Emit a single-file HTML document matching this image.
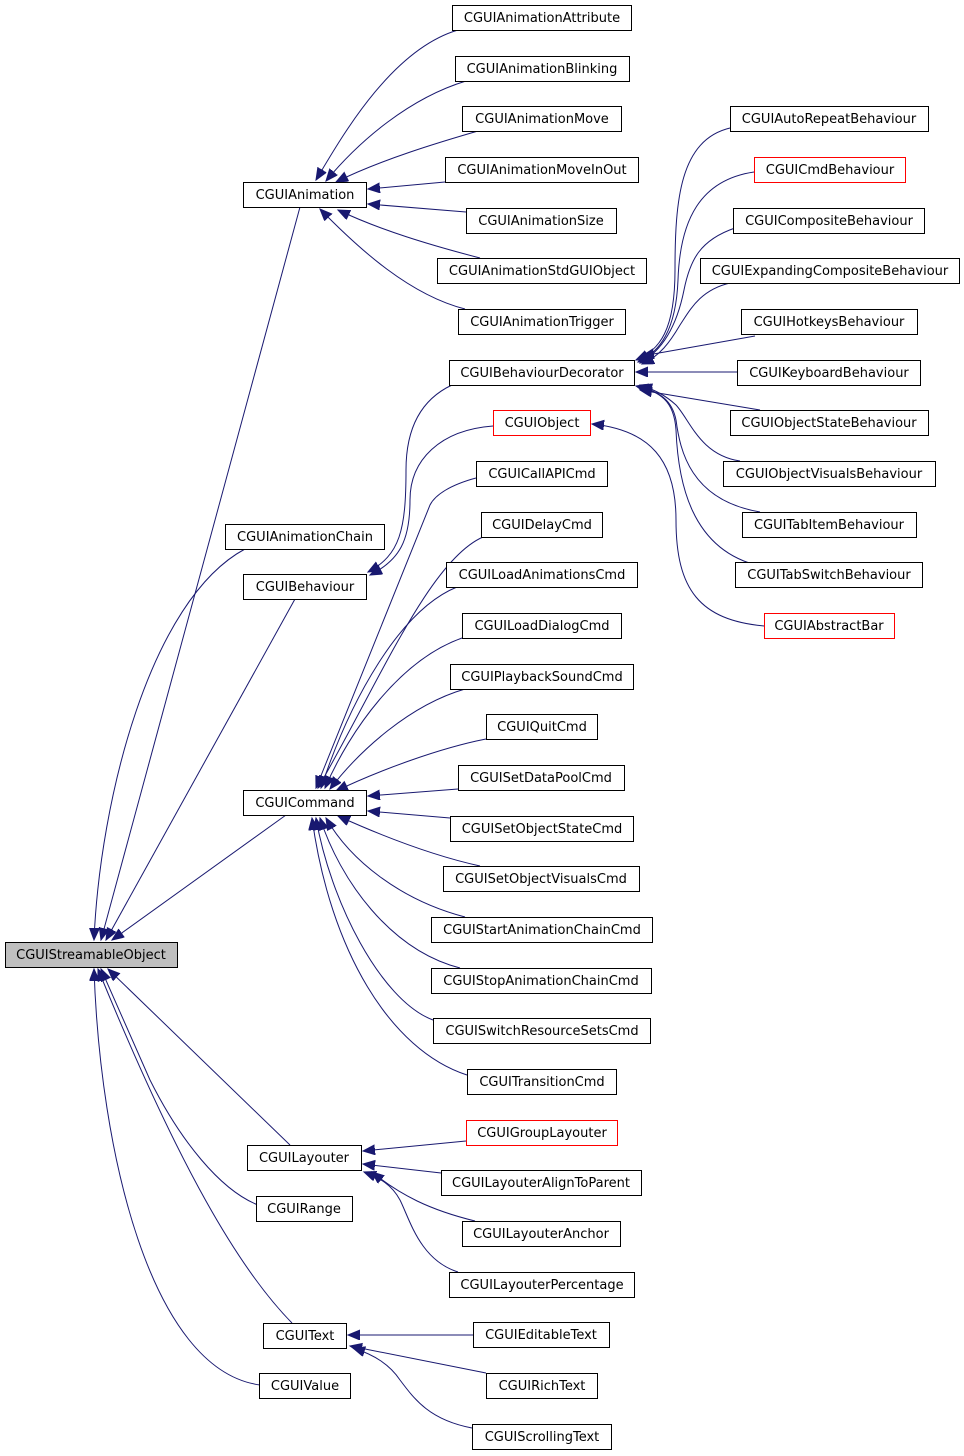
<!DOCTYPE html>
<html><head><meta charset="utf-8"><style>
html,body{margin:0;padding:0;background:#fff}
svg{display:block}
text{font-family:"DejaVu Sans","Liberation Sans",sans-serif;font-size:13px;fill:#000}
</style></head><body>
<svg width="964" height="1456" viewBox="0 0 964 1456" xmlns="http://www.w3.org/2000/svg">
<defs>
<marker id="a" markerUnits="userSpaceOnUse" markerWidth="14" markerHeight="12" refX="12" refY="5" orient="auto">
<path d="M0,0 L12,5 L0,10 Z" fill="#191970" stroke="#191970"/>
</marker>
</defs>
<g fill="none" stroke="#191970" stroke-width="1" marker-end="url(#a)">
<!-- to CGUIAnimation -->
<path d="M458,30 C390,50 340,140 316,180"/>
<path d="M466,81 C410,98 360,140 326,181"/>
<path d="M478,131 C440,142 380,160 336,182"/>
<path d="M445,182 L368,189"/>
<path d="M466,212 L368,204"/>
<path d="M480,258 C430,245 380,230 338,210"/>
<path d="M465,309 C410,295 360,250 320,209"/>
<!-- to BehaviourDecorator -->
<path d="M730,128 C680,140 675,200 675,270 C675,330 660,350 636,360"/>
<path d="M754,172 C700,180 680,220 678,280 C676,330 660,352 638,362"/>
<path d="M735,228 C700,240 690,260 684,290 C676,330 660,352 640,363"/>
<path d="M730,283 C700,290 690,310 680,325 C670,342 660,356 642,364"/>
<path d="M755,336 L642,356"/>
<path d="M737,372 L636,372"/>
<path d="M760,410 L640,390"/>
<path d="M740,461 C700,455 690,420 676,405 C665,395 655,390 640,385"/>
<path d="M760,512 C690,500 680,450 676,420 C672,400 660,392 638,386"/>
<path d="M760,566 C690,550 678,480 676,430 C674,400 660,392 636,386"/>
<!-- AbstractBar to CGUIObject -->
<path d="M764,626 C700,620 676,590 676,520 C676,460 650,430 592,424"/>
<!-- to CGUIBehaviour -->
<path d="M452,385 C420,400 406,430 406,470 C406,530 400,555 368,572"/>
<path d="M493,426 C440,430 410,460 410,500 C410,540 400,560 370,575"/>
<!-- to CGUICommand -->
<path d="M476,478 C450,485 435,495 430,505 L316,788"/>
<path d="M483,537 C430,560 380,680 318,788"/>
<path d="M457,587 C400,610 350,700 321,788"/>
<path d="M462,638 C400,660 350,730 325,788"/>
<path d="M465,689 C410,705 360,750 330,789"/>
<path d="M486,739 C440,748 380,770 336,791"/>
<path d="M458,789 L368,796"/>
<path d="M450,818 L368,811"/>
<path d="M480,866 C430,855 380,835 338,816"/>
<path d="M465,917 C400,900 350,860 326,818"/>
<path d="M460,968 C390,950 340,880 320,818"/>
<path d="M433,1020 C380,1000 330,900 316,818"/>
<path d="M467,1075 C390,1050 330,950 312,818"/>
<!-- to Layouter -->
<path d="M466,1141 L363,1151"/>
<path d="M441,1173 L363,1164"/>
<path d="M475,1221 C430,1210 400,1195 372,1172"/>
<path d="M458,1272 C420,1260 410,1220 400,1200 C392,1185 380,1178 364,1172"/>
<!-- to Text -->
<path d="M473,1335 L348,1335"/>
<path d="M486,1373 L350,1346"/>
<path d="M472,1428 C430,1420 415,1400 400,1380 C390,1365 375,1355 353,1348"/>
<!-- to StreamableObject -->
<path d="M300,207 L101,940"/>
<path d="M245,549 C150,600 100,800 94,940"/>
<path d="M295,599 L106,940"/>
<path d="M286,815 L112,940"/>
<path d="M290,1145 L108,969"/>
<path d="M258,1205 C220,1190 180,1140 150,1080 L101,969"/>
<path d="M292,1323 C240,1270 180,1170 98,969"/>
<path d="M260,1385 C150,1370 100,1150 94,969"/>
</g>
<g stroke="#000" stroke-width="1" fill="#fff">
<rect x="5.5" y="942.5" width="172" height="25" fill="#bfbfbf"/>
<rect x="243.5" y="182.5" width="123" height="25"/>
<rect x="225.5" y="524.5" width="159" height="25"/>
<rect x="243.5" y="574.5" width="123" height="25"/>
<rect x="243.5" y="790.5" width="123" height="25"/>
<rect x="247.5" y="1145.5" width="114" height="25"/>
<rect x="256.5" y="1196.5" width="96" height="25"/>
<rect x="263.5" y="1323.5" width="83" height="25"/>
<rect x="259.5" y="1373.5" width="91" height="25"/>
<rect x="452.5" y="5.5" width="179" height="25"/>
<rect x="455.5" y="56.5" width="174" height="25"/>
<rect x="462.5" y="106.5" width="159" height="25"/>
<rect x="445.5" y="157.5" width="193" height="25"/>
<rect x="466.5" y="208.5" width="150" height="25"/>
<rect x="437.5" y="258.5" width="209" height="25"/>
<rect x="458.5" y="309.5" width="167" height="25"/>
<rect x="449.5" y="360.5" width="185" height="25"/>
<rect x="493.5" y="410.5" width="97" height="25" stroke="#f00"/>
<rect x="476.5" y="461.5" width="131" height="25"/>
<rect x="481.5" y="512.5" width="121" height="25"/>
<rect x="446.5" y="562.5" width="191" height="25"/>
<rect x="462.5" y="613.5" width="159" height="25"/>
<rect x="450.5" y="664.5" width="183" height="25"/>
<rect x="486.5" y="714.5" width="111" height="25"/>
<rect x="458.5" y="765.5" width="166" height="25"/>
<rect x="450.5" y="816.5" width="183" height="25"/>
<rect x="443.5" y="866.5" width="196" height="25"/>
<rect x="431.5" y="917.5" width="221" height="25"/>
<rect x="431.5" y="968.5" width="220" height="25"/>
<rect x="433.5" y="1018.5" width="217" height="25"/>
<rect x="467.5" y="1069.5" width="149" height="25"/>
<rect x="466.5" y="1120.5" width="151" height="25" stroke="#f00"/>
<rect x="441.5" y="1170.5" width="200" height="25"/>
<rect x="462.5" y="1221.5" width="158" height="25"/>
<rect x="449.5" y="1272.5" width="185" height="25"/>
<rect x="473.5" y="1322.5" width="136" height="25"/>
<rect x="486.5" y="1373.5" width="111" height="25"/>
<rect x="472.5" y="1424.5" width="139" height="25"/>
<rect x="730.5" y="106.5" width="198" height="25"/>
<rect x="754.5" y="157.5" width="151" height="25" stroke="#f00"/>
<rect x="733.5" y="208.5" width="191" height="25"/>
<rect x="700.5" y="258.5" width="259" height="25"/>
<rect x="741.5" y="309.5" width="176" height="25"/>
<rect x="737.5" y="360.5" width="183" height="25"/>
<rect x="730.5" y="410.5" width="198" height="25"/>
<rect x="723.5" y="461.5" width="212" height="25"/>
<rect x="742.5" y="512.5" width="174" height="25"/>
<rect x="735.5" y="562.5" width="187" height="25"/>
<rect x="764.5" y="613.5" width="130" height="25" stroke="#f00"/>
</g>
<g text-anchor="middle">
<text x="91" y="959">CGUIStreamableObject</text>
<text x="305" y="199">CGUIAnimation</text>
<text x="305" y="541">CGUIAnimationChain</text>
<text x="305" y="591">CGUIBehaviour</text>
<text x="305" y="807">CGUICommand</text>
<text x="304" y="1162">CGUILayouter</text>
<text x="304" y="1213">CGUIRange</text>
<text x="305" y="1340">CGUIText</text>
<text x="305" y="1390">CGUIValue</text>
<text x="542" y="22">CGUIAnimationAttribute</text>
<text x="542" y="73">CGUIAnimationBlinking</text>
<text x="542" y="123">CGUIAnimationMove</text>
<text x="542" y="174">CGUIAnimationMoveInOut</text>
<text x="541" y="225">CGUIAnimationSize</text>
<text x="542" y="275">CGUIAnimationStdGUIObject</text>
<text x="542" y="326">CGUIAnimationTrigger</text>
<text x="542" y="377">CGUIBehaviourDecorator</text>
<text x="542" y="427">CGUIObject</text>
<text x="542" y="478">CGUICallAPICmd</text>
<text x="542" y="529">CGUIDelayCmd</text>
<text x="542" y="579">CGUILoadAnimationsCmd</text>
<text x="542" y="630">CGUILoadDialogCmd</text>
<text x="542" y="681">CGUIPlaybackSoundCmd</text>
<text x="542" y="731">CGUIQuitCmd</text>
<text x="541" y="782">CGUISetDataPoolCmd</text>
<text x="542" y="833">CGUISetObjectStateCmd</text>
<text x="541" y="883">CGUISetObjectVisualsCmd</text>
<text x="542" y="934">CGUIStartAnimationChainCmd</text>
<text x="541" y="985">CGUIStopAnimationChainCmd</text>
<text x="542" y="1035">CGUISwitchResourceSetsCmd</text>
<text x="542" y="1086">CGUITransitionCmd</text>
<text x="542" y="1137">CGUIGroupLayouter</text>
<text x="541" y="1187">CGUILayouterAlignToParent</text>
<text x="541" y="1238">CGUILayouterAnchor</text>
<text x="542" y="1289">CGUILayouterPercentage</text>
<text x="541" y="1339">CGUIEditableText</text>
<text x="542" y="1390">CGUIRichText</text>
<text x="542" y="1441">CGUIScrollingText</text>
<text x="829" y="123">CGUIAutoRepeatBehaviour</text>
<text x="830" y="174">CGUICmdBehaviour</text>
<text x="829" y="225">CGUICompositeBehaviour</text>
<text x="830" y="275">CGUIExpandingCompositeBehaviour</text>
<text x="829" y="326">CGUIHotkeysBehaviour</text>
<text x="829" y="377">CGUIKeyboardBehaviour</text>
<text x="829" y="427">CGUIObjectStateBehaviour</text>
<text x="829" y="478">CGUIObjectVisualsBehaviour</text>
<text x="829" y="529">CGUITabItemBehaviour</text>
<text x="829" y="579">CGUITabSwitchBehaviour</text>
<text x="829" y="630">CGUIAbstractBar</text>
</g>
</svg>
</body></html>
